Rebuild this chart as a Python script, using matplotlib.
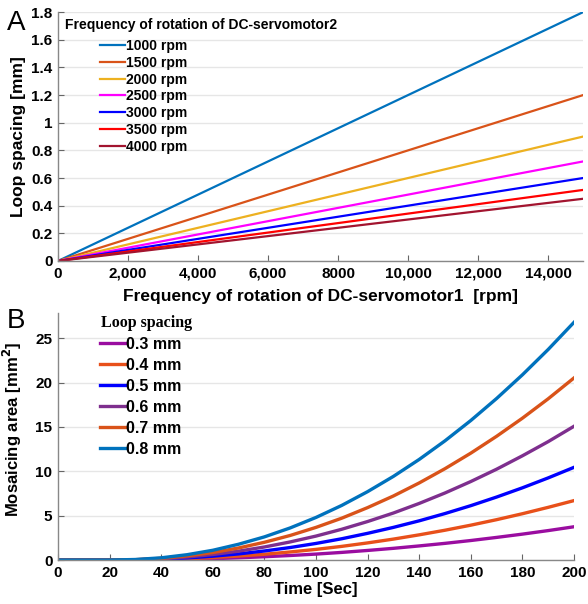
import matplotlib
matplotlib.use("Agg")
import matplotlib.pyplot as plt

plt.rcParams['font.family'] = ['Liberation Sans', 'DejaVu Sans']

# ---- Panel A data ----
rpm2_labels = ['1000 rpm', '1500 rpm', '2000 rpm', '2500 rpm', '3000 rpm', '3500 rpm', '4000 rpm']
rpm1_x = [0, 15000]
loop_end = [1.8, 1.2, 0.9, 0.72, 0.6, 0.514, 0.45]
colors_a = ['#0072BD', '#D95319', '#EDB120', '#FF00FF', '#0000FF', '#FF0000', '#A2142F']
xticks_a = [0, 2000, 4000, 6000, 8000, 10000, 12000, 14000]
xticklabels_a = ['0', '2,000', '4,000', '6,000', '8000', '10,000', '12,000', '14,000']
yticks_a = [0, 0.2, 0.4, 0.6, 0.8, 1, 1.2, 1.4, 1.6, 1.8]
yticklabels_a = ['0', '0.2', '0.4', '0.6', '0.8', '1', '1.2', '1.4', '1.6', '1.8']

# ---- Panel B data ----
time_s = [0, 10, 20, 30, 40, 50, 60, 70, 80, 90, 100, 110, 120, 130, 140, 150, 160, 170, 180, 190, 200]
area_03 = [0, 0, 0, 0.01, 0.04, 0.08, 0.15, 0.25, 0.37, 0.51, 0.67, 0.86, 1.08, 1.32, 1.59, 1.88, 2.20, 2.55, 2.92, 3.32, 3.75]
area_04 = [0, 0, 0, 0.015, 0.06, 0.15, 0.28, 0.45, 0.65, 0.91, 1.20, 1.54, 1.93, 2.36, 2.84, 3.36, 3.93, 4.55, 5.22, 5.94, 6.70]
area_05 = [0, 0, 0, 0.02, 0.10, 0.23, 0.43, 0.69, 1.02, 1.41, 1.87, 2.40, 3.01, 3.68, 4.42, 5.24, 6.13, 7.10, 8.14, 9.26, 10.45]
area_06 = [0, 0, 0, 0.03, 0.14, 0.34, 0.62, 1.00, 1.47, 2.04, 2.70, 3.47, 4.34, 5.30, 6.38, 7.56, 8.85, 10.24, 11.75, 13.35, 15.08]
area_07 = [0, 0, 0, 0.04, 0.19, 0.46, 0.84, 1.36, 2.00, 2.77, 3.68, 4.72, 5.91, 7.22, 8.69, 10.30, 12.05, 13.95, 15.99, 18.18, 20.53]
area_08 = [0, 0, 0, 0.06, 0.25, 0.60, 1.10, 1.78, 2.61, 3.62, 4.80, 6.16, 7.71, 9.43, 11.34, 13.44, 15.73, 18.21, 20.88, 23.74, 26.80]
spacing_labels = ['0.3 mm', '0.4 mm', '0.5 mm', '0.6 mm', '0.7 mm', '0.8 mm']
colors_b = ['#9A0DA0', '#E8501A', '#0000FF', '#7E2F8E', '#D95319', '#0072BD']
xticks_b = list(range(0, 201, 20))
yticks_b = [0, 5, 10, 15, 20, 25]

W, H = 588, 604
fig = plt.figure(figsize=(W / 100, H / 100), dpi=100)

grid_color = '#e6e6e6'

def fx(px):
    return px / W

def fy(py):
    return 1 - py / H

def style(ax):
    for s in ['top', 'right']:
        ax.spines[s].set_visible(False)
    for s in ['left', 'bottom']:
        ax.spines[s].set_color('#888888')
        ax.spines[s].set_linewidth(1.0)
    ax.tick_params(direction='in', length=4, width=0.8, color='#666666',
                   labelsize=11, pad=4)
    for lab in ax.get_xticklabels() + ax.get_yticklabels():
        lab.set_fontweight('bold')
    ax.yaxis.grid(True, color=grid_color, linewidth=1.0)
    ax.set_axisbelow(True)

# ---- Panel A ----
axA = fig.add_axes([0.0986, 0.5679, 0.893, 0.412])
for lab, yend, c in zip(rpm2_labels, loop_end, colors_a):
    axA.plot(rpm1_x, [0, yend], color=c, linewidth=1.6, label=lab)
axA.set_xlim(0, 15000)
axA.set_ylim(0, 1.8)
axA.set_xticks(xticks_a)
axA.set_xticklabels(xticklabels_a)
axA.set_yticks(yticks_a)
axA.set_yticklabels(yticklabels_a)
style(axA)
axA.set_xlabel('Frequency of rotation of DC-servomotor1  [rpm]', fontsize=12.5,
               fontweight='bold', labelpad=6)
axA.set_ylabel('Loop spacing [mm]', fontsize=12.5, fontweight='bold', labelpad=4)
fig.text(fx(65), fy(25), 'Frequency of rotation of DC-servomotor2', fontsize=10,
         fontweight='bold', ha='left', va='center')
legA = axA.legend(loc='upper left', bbox_to_anchor=(fx(100), fy(39)),
                  bbox_transform=fig.transFigure, frameon=False,
                  prop={'weight': 'bold', 'size': 10}, handlelength=1.8,
                  handletextpad=0.05, labelspacing=0.2, borderpad=0,
                  borderaxespad=0)
fig.text(0.012, 0.962, 'A', fontsize=20, ha='left', va='center')

# ---- Panel B ----
axB = fig.add_axes([0.0986, 0.0728, 0.8776, 0.409])
series_b = [area_03, area_04, area_05, area_06, area_07, area_08]
for lab, ys, c in zip(spacing_labels, series_b, colors_b):
    axB.plot(time_s, ys, color=c, linewidth=2.4, label=lab)
axB.set_xlim(0, 200)
axB.set_ylim(0, 27.85)
axB.set_xticks(xticks_b)
axB.set_yticks(yticks_b)
style(axB)
axB.set_xlabel('Time [Sec]', fontsize=12, fontweight='bold', labelpad=2)
axB.set_ylabel('Mosaicing area [mm$^\\mathbf{2}$]', fontsize=12, fontweight='bold', labelpad=2)
axB.yaxis.set_label_coords(-0.065, 0.53)
fig.text(fx(101), fy(323), 'Loop spacing', fontsize=11.5, fontweight='bold',
         family=['Liberation Serif', 'DejaVu Serif'], ha='left', va='center')
legB = axB.legend(loc='upper left', bbox_to_anchor=(fx(100), fy(337)),
                  bbox_transform=fig.transFigure, frameon=False,
                  prop={'weight': 'bold', 'size': 11.5}, handlelength=1.6,
                  handletextpad=0.05, labelspacing=0.37, borderpad=0,
                  borderaxespad=0)
fig.text(0.012, 0.468, 'B', fontsize=20, ha='left', va='center')

fig.savefig('out.png', dpi=100)
